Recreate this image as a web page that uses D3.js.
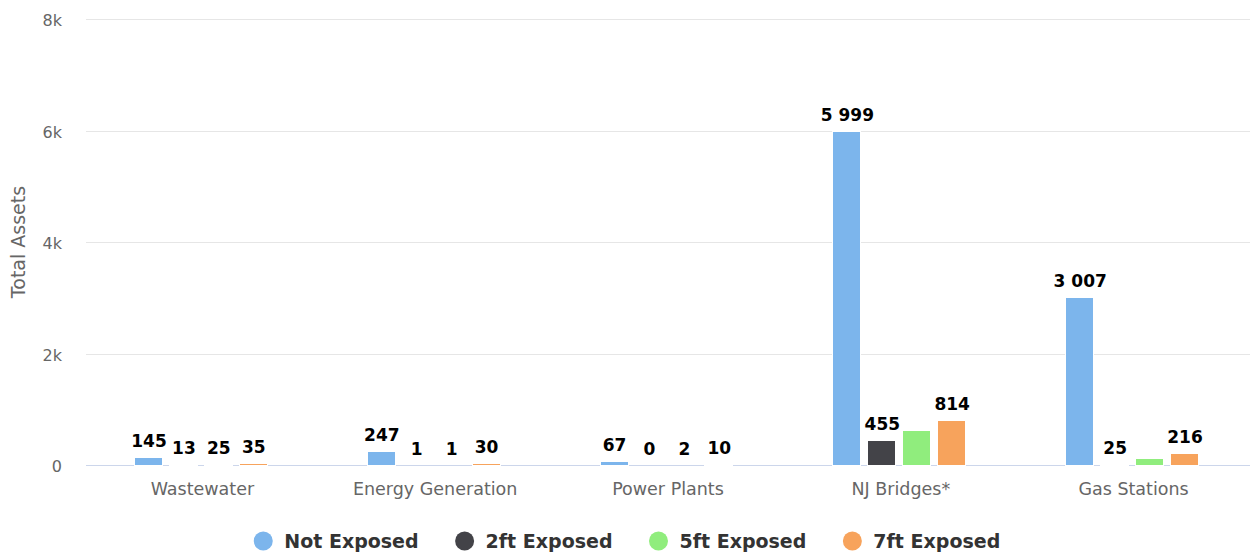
<!DOCTYPE html>
<html>
<head>
<meta charset="utf-8">
<script src="https://cdn.jsdelivr.net/npm/d3@7"></script>
<style>
  body { margin:0; background:#fff; }
  svg text { font-family: "DejaVu Sans", sans-serif; }
</style>
</head>
<body>
<div id="chart"></div>
<script>
(function(){
"use strict"

// data
var categories = ["Wastewater", "Energy Generation", "Power Plants", "NJ Bridges*", "Gas Stations"];
var seriesNames = ["Not Exposed", "2ft Exposed", "5ft Exposed", "7ft Exposed"];
var notExposed = [145, 247, 67, 5999, 3007];
var ft2Exposed = [13, 1, 0, 455, 25];
var ft5Exposed = [25, 1, 2, 620, 120];
var ft7Exposed = [35, 30, 10, 814, 216];
var yTicks = [0, 2000, 4000, 6000, 8000];
var colors = ["#7cb5ec", "#434348", "#90ed7d", "#f7a35c"];

var values = [notExposed, ft2Exposed, ft5Exposed, ft7Exposed];

var W = 1250, H = 552,
	margin = {top:19, right:0, bottom:87, left:86},
	width = W - margin.left - margin.right,
	height = H - margin.top - margin.bottom;

var svg = d3.select('#chart').append('svg')
	.attr('width', W)
	.attr('height', H);

var g = svg.append('g').attr('transform', 'translate(' + margin.left + ',' + margin.top + ')');

var x0 = d3.scaleBand().domain(categories).range([0, width]).padding(0);
var bw = x0.bandwidth();
var x1 = d3.scaleBand().domain(d3.range(seriesNames.length))
	.range([0.2*bw, 0.8*bw]).paddingInner(0.2).paddingOuter(0.1);
var y = d3.scaleLinear().domain([0, 8000]).range([height, 0]);

var fmt = function(v){ return d3.format(",")(v).replace(/,/g, " "); };

// grid
g.selectAll('.grid').data(yTicks.filter(function(d){return d>0;})).enter()
	.append('line')
		.attr('x1', 0).attr('x2', width)
		.attr('y1', function(d){return Math.round(y(d))+0.5;})
		.attr('y2', function(d){return Math.round(y(d))+0.5;})
		.style('stroke', '#e6e6e6');

// y tick labels
g.selectAll('.ytick').data(yTicks).enter()
	.append('text')
		.attr('x', -24)
		.attr('y', function(d){return y(d)+7;})
		.attr('text-anchor', 'end')
		.style('font-size', '16px')
		.style('fill', '#666')
		.text(function(d){ return d === 0 ? "0" : (d/1000) + "k"; });

// y title
svg.append('text')
	.attr('transform', 'translate(25,242) rotate(-90)')
	.attr('text-anchor', 'middle')
	.style('font-size', '19px')
	.style('fill', '#666')
	.text('Total Assets');

// x axis line (under the bars)
g.append('line')
	.attr('x1', 0).attr('x2', width)
	.attr('y1', height+0.5).attr('y2', height+0.5)
	.style('stroke', '#ccd6eb');

// bars
var pts = [];
categories.forEach(function(c, ci){
	values.forEach(function(arr, si){
		pts.push({cat:c, s:si, v:arr[ci]});
	});
});

g.selectAll('.bar').data(pts).enter()
	.append('rect')
		.attr('x', function(d){return Math.round(x0(d.cat) + x1(d.s)) - 1.5;})
		.attr('y', function(d){return Math.round(y(d.v)) + 0.5;})
		.attr('width', Math.round(x1.bandwidth()))
		.attr('height', function(d){return Math.max(0, height - Math.round(y(d.v)));})
		.style('fill', function(d){return colors[d.s];})
		.style('stroke', '#fff')
		.style('stroke-width', 1);

g.selectAll('.xlab').data(categories).enter()
	.append('text')
		.attr('x', function(d){return x0(d) + bw/2;})
		.attr('y', height + 30)
		.attr('text-anchor', 'middle')
		.style('font-size', '17.5px')
		.style('fill', '#666')
		.text(function(d){return d;});

// data labels
var labels = g.selectAll('.dl').data(pts).enter()
	.append('text')
		.attr('x', function(d){return x0(d.cat) + x1(d.s) + x1.bandwidth()/2 - 1;})
		.attr('y', function(d){return y(d.v) - 10;})
		.attr('text-anchor', 'middle')
		.style('font-size', '17px')
		.style('font-weight', 'bold')
		.style('fill', '#000')
		.style('stroke', '#fff')
		.style('stroke-width', 2)
		.style('paint-order', 'stroke')
		.style('stroke-linejoin', 'round')
		.text(function(d){return fmt(d.v);});

// hide overlapping labels, taller bar wins
var lab = [];
labels.each(function(d){
	var b = this.getBBox();
	lab.push({el:this, rank:height - y(d.v), x:b.x-1, y:b.y, w:b.width+2, h:b.height, hide:false});
});
lab.sort(function(a,b){return b.rank - a.rank;});
for (var i=0; i<lab.length; i++){
	for (var j=i+1; j<lab.length; j++){
		var a = lab[i], b = lab[j];
		if (a.hide || b.hide) continue;
		if (a.x < b.x+b.w && b.x < a.x+a.w && a.y < b.y+b.h && b.y < a.y+a.h){
			(a.rank < b.rank ? a : b).hide = true;
		}
	}
}
lab.forEach(function(l){ if (l.hide) d3.select(l.el).remove(); });

// legend
var legend = svg.append('g');
var lx = 0;
seriesNames.forEach(function(n, i){
	var it = legend.append('g').attr('transform', 'translate(' + lx + ',0)');
	it.append('circle').attr('cx', 0).attr('cy', 0).attr('r', 9.5).style('fill', colors[i]);
	var t = it.append('text')
		.attr('x', 21).attr('y', 7)
		.style('font-size', '19px')
		.style('font-weight', 'bold')
		.style('fill', '#333')
		.text(n);
	lx += 21 + t.node().getComputedTextLength() + 46;
});
var total = lx - 46 + 9.5;
legend.attr('transform', 'translate(' + (627 - total/2 + 9.5) + ',541)');

})();
</script>
</body>
</html>
